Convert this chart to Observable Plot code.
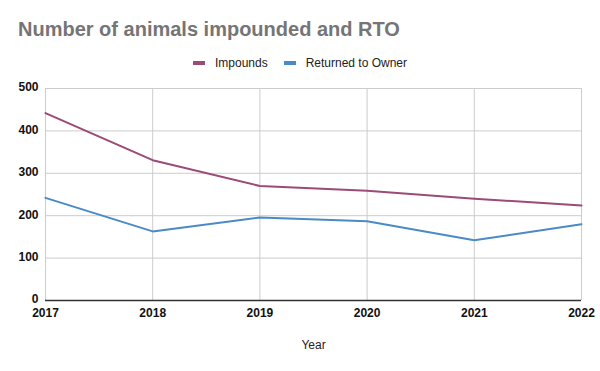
<!DOCTYPE html>
<html>
<head>
<meta charset="utf-8">
<script src="https://cdn.jsdelivr.net/npm/d3@7"></script>
<script src="https://cdn.jsdelivr.net/npm/@observablehq/plot@0.6"></script>
<style>
  body { margin: 0; background: #fff; font-family: "Liberation Sans", Arial, sans-serif; }
  #wrap { position: relative; width: 600px; height: 371px; }
  #title { position: absolute; left: 18px; top: 18px; font-size: 20px; font-weight: bold; color: #757575; white-space: nowrap; }
  #legend { position: absolute; left: 0; width: 600px; top: 54px; text-align: center; font-size: 12px; color: #222; }
  .item { display: inline-flex; align-items: center; margin: 0 8px; }
  .sw { display: inline-block; width: 12px; height: 4px; margin-right: 10px; }
  #chart { position: absolute; left: 0; top: 80px; }
</style>
</head>
<body>
<div id="wrap">
  <div id="title">Number of animals impounded and RTO</div>
  <div id="legend"></div>
  <div id="chart"></div>
</div>
<script>
const years = [2017, 2018, 2019, 2020, 2021, 2022];
const impounds = [442, 331, 270, 259, 240, 224];
const returnedToOwner = [242, 163, 196, 187, 142, 180];
const seriesNames = ["Impounds", "Returned to Owner"];
const seriesColors = ["#9c4a76", "#4a8ac6"];
const yTicks = [0, 100, 200, 300, 400, 500];

const data = [];
years.forEach((y, i) => {
  data.push({year: y, value: impounds[i], series: seriesNames[0]});
  data.push({year: y, value: returnedToOwner[i], series: seriesNames[1]});
});

const legend = document.getElementById("legend");
seriesNames.forEach((n, i) => {
  const it = document.createElement("span");
  it.className = "item";
  it.innerHTML = `<span class="sw" style="background:${seriesColors[i]}"></span>${n}`;
  legend.appendChild(it);
});

const chart = Plot.plot({
  width: 600,
  height: 291,
  marginTop: 8,
  marginBottom: 71,
  marginLeft: 45,
  marginRight: 19,
  style: {fontFamily: "'Liberation Sans', Arial, sans-serif", fontSize: "12px", color: "#000"},
  x: {domain: [2017, 2022], ticks: years, tickFormat: d => String(d), label: null},
  y: {domain: [0, 500], ticks: yTicks, label: null},
  color: {domain: seriesNames, range: seriesColors},
  marks: [
    Plot.gridX(years, {stroke: "#cccccc", strokeOpacity: 1}),
    Plot.gridY(yTicks, {stroke: "#cccccc", strokeOpacity: 1}),
    Plot.line(data, {x: "year", y: "value", z: "series", stroke: "series", strokeWidth: 2}),
    Plot.ruleY([0], {stroke: "#333", strokeWidth: 1.5}),
    Plot.axisX(years, {tickSize: 0, tickPadding: 8, fontWeight: "bold", fill: "#111", label: null, tickFormat: d => String(d)}),
    Plot.axisY(yTicks, {tickSize: 0, tickPadding: 7, fontWeight: "bold", fill: "#111", label: null, dy: -1}),
    Plot.text(["Year"], {frameAnchor: "bottom", dy: 48, fill: "#222", fontSize: 12})
  ]
});
document.getElementById("chart").appendChild(chart);
</script>
</body>
</html>
